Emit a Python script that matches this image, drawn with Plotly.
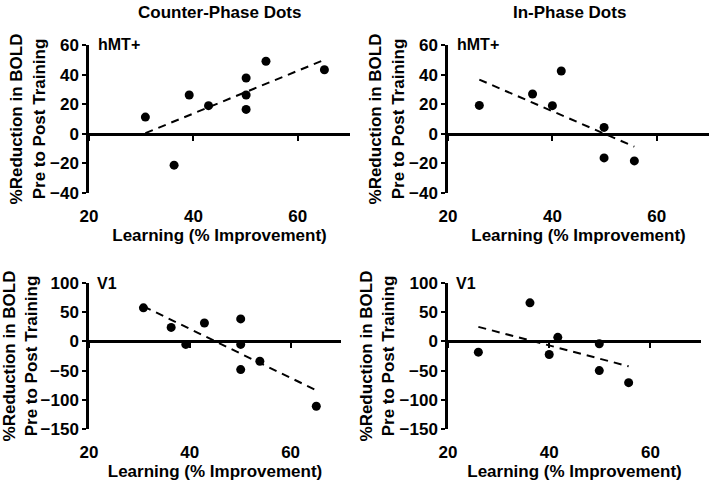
import numpy as np
import plotly.graph_objects as go

# ---- data ----
learning_cp = [30.8, 36.3, 39.2, 42.9, 50.1, 50.1, 50.1, 53.9, 65.1]
hmt_cp = [11.3, -21.2, 26.2, 19.0, 37.7, 26.2, 16.5, 49.0, 43.3]
v1_cp = [57.5, 24.0, -5.2, 31.6, 38.5, -5.2, -48.3, -34.0, -111.0]

learning_ip = [26.0, 36.2, 40.0, 41.7, 49.9, 49.9, 55.7]
hmt_ip = [19.2, 26.9, 19.0, 42.4, 4.3, -16.3, -18.3]
v1_ip = [-18.4, 66.0, -22.4, 6.9, -4.0, -50.0, -70.7]

col_titles = ["Counter-Phase Dots", "In-Phase Dots"]
x_ticks = [20, 40, 60]
hmt_ticks = [-40, -20, 0, 20, 40, 60]
v1_ticks = [-150, -100, -50, 0, 50, 100]
x_title = "Learning (% Improvement)"
y_title = "%Reduction in BOLD<br>Pre to Post Training"

W, H = 714, 484
FONT = "Liberation Sans, Arial, sans-serif"


def dom_x(a, b):
    return [a / W, b / W]


def dom_y(top, bottom):
    return [1 - bottom / H, 1 - top / H]


panels = [
    dict(x=learning_cp, y=hmt_cp, xd=dom_x(89, 350), yd=dom_y(45, 193), yr=[-40, 60], yt=hmt_ticks, lab="hMT+"),
    dict(x=learning_ip, y=hmt_ip, xd=dom_x(448, 709), yd=dom_y(45, 193), yr=[-40, 60], yt=hmt_ticks, lab="hMT+"),
    dict(x=learning_cp, y=v1_cp, xd=dom_x(89, 341), yd=dom_y(283, 429), yr=[-150, 100], yt=v1_ticks, lab="V1"),
    dict(x=learning_ip, y=v1_ip, xd=dom_x(448, 701), yd=dom_y(283, 429), yr=[-150, 100], yt=v1_ticks, lab="V1"),
]

fig = go.Figure()
layout = dict(
    width=W, height=H,
    margin=dict(l=0, r=0, t=0, b=0),
    paper_bgcolor="white", plot_bgcolor="white",
    showlegend=False,
    font=dict(family=FONT, color="black", size=16, weight="bold"),
    annotations=[],
)

for i, p in enumerate(panels):
    n = i + 1
    xa = "x" if n == 1 else f"x{n}"
    ya = "y" if n == 1 else f"y{n}"
    ov = f"x{n + 4}"
    fig.add_trace(go.Scatter(x=p["x"], y=p["y"], mode="markers", xaxis=xa, yaxis=ya,
                             marker=dict(color="black", size=9), hoverinfo="x+y"))
    k, b = np.polyfit(p["x"], p["y"], 1)
    tx = [min(p["x"]), max(p["x"])]
    fig.add_trace(go.Scatter(x=tx, y=[k * v + b for v in tx], mode="lines", xaxis=xa, yaxis=ya,
                             line=dict(color="black", width=2, dash="8px,6px"), hoverinfo="skip"))
    fig.add_trace(go.Scatter(x=[x_ticks[0]], y=[0], mode="markers", xaxis=ov, yaxis=ya,
                             marker=dict(opacity=0), hoverinfo="skip"))

    zero_pos = p["yd"][0] + (0 - p["yr"][0]) / (p["yr"][1] - p["yr"][0]) * (p["yd"][1] - p["yd"][0])

    layout[f"xaxis{n}"] = dict(
        domain=p["xd"], range=[20, 70], anchor=ya, automargin=False,
        showline=False, showgrid=False, zeroline=False,
        tickvals=x_ticks, ticks="outside", ticklen=8, tickcolor="rgba(0,0,0,0)",
        tickfont=dict(size=17, family=FONT, weight="bold"),
        title=dict(text=x_title, standoff=3, font=dict(size=17, family=FONT, weight="bold")),
    )
    layout[f"xaxis{n + 4}"] = dict(
        overlaying=xa, anchor="free", position=zero_pos, range=[20, 70], automargin=False,
        showline=True, linecolor="black", linewidth=2.5, showgrid=False, zeroline=False,
        tickvals=x_ticks, ticks="outside", ticklen=5, tickwidth=2, tickcolor="black",
        showticklabels=False,
    )
    layout[f"yaxis{n}"] = dict(
        domain=p["yd"], range=p["yr"], anchor=xa, automargin=False,
        showline=True, linecolor="black", linewidth=2.5, showgrid=False, zeroline=False,
        tickvals=p["yt"], ticks="outside", ticklen=4, tickwidth=2, tickcolor="black",
        tickfont=dict(size=17, family=FONT, weight="bold"),
        title=dict(text=y_title, standoff=1, font=dict(size=17, family=FONT, weight="bold")),
    )
    layout["annotations"].append(dict(
        text=p["lab"], xref=f"{xa} domain", yref=f"{ya} domain", x=0.025, y=1.0,
        xanchor="left", yanchor="middle", showarrow=False,
        font=dict(size=16, family=FONT, weight="bold"),
    ))

for t, cx in zip(col_titles, [219, 569]):
    layout["annotations"].append(dict(text=t, xref="paper", yref="paper", x=cx / W, y=1 - 12 / H,
                                      xanchor="center", yanchor="middle", showarrow=False,
                                      font=dict(size=17, family=FONT, weight="bold")))

fig.update_layout(**layout)
fig.write_html("out.html", config={"displayModeBar": False},
               post_script="document.body.style.margin='0';")
